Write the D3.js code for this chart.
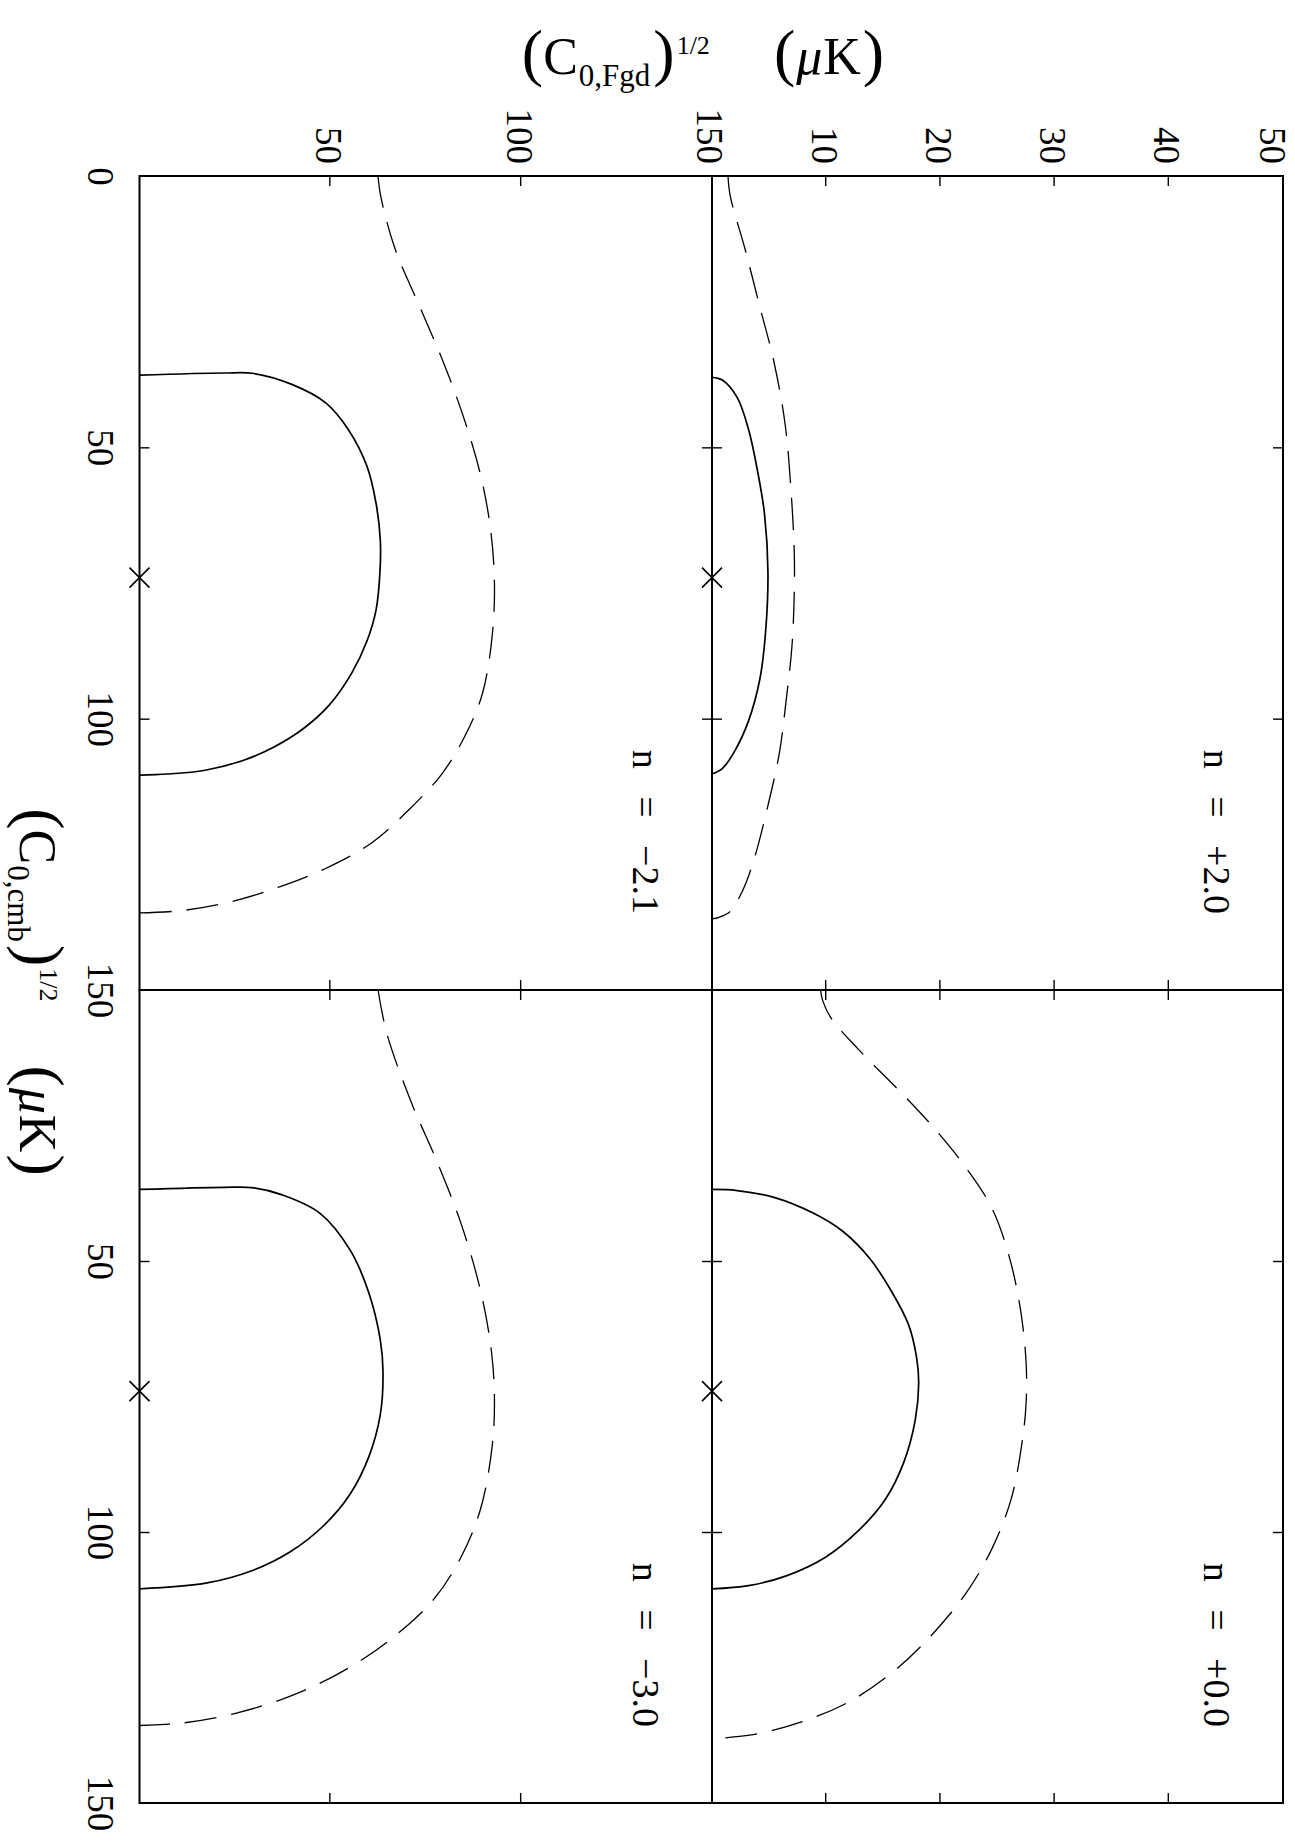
<!DOCTYPE html>
<html>
<head>
<meta charset="utf-8">
<script src="https://cdn.jsdelivr.net/npm/d3@7"></script>
<style>
  html, body { margin: 0; padding: 0; background: #ffffff; }
  svg { display: block; }
</style>
</head>
<body>
<div id="chart"></div>
<script>
// contour points as [C_cmb^1/2, C_Fgd^1/2] pairs
const solidP20 = [[37.1, 0], [37.6, 0.9], [40.8, 2.2], [46.7, 3.2], [54.5, 4.0], [62.3, 4.6], [73.0, 4.9], [83.8, 4.7], [92.6, 4.2], [100.4, 3.2], [106.3, 1.9], [109.2, 0.9], [110.2, 0]];
const dashedP20 = [[0, 1.4], [3.7, 1.6], [13.5, 2.9], [24.2, 4.2], [34.0, 5.4], [45.7, 6.4], [57.4, 6.9], [69.1, 7.2], [77.0, 7.2], [86.7, 7.0], [96.5, 6.5], [106.3, 5.9], [116.0, 4.9], [125.8, 3.7], [131.6, 2.7], [135.5, 1.6], [136.6, 0.6], [136.9, 0]];

const solidP00 = [[36.8, 0], [37.0, 2.2], [38.3, 5.5], [41.2, 8.9], [44.6, 11.5], [49.5, 13.8], [55.9, 15.8], [61.7, 17.2], [67.6, 17.9], [72.5, 18.1], [79.3, 17.8], [87.1, 16.8], [93.9, 15.2], [99.8, 12.8], [104.7, 9.9], [108.1, 6.5], [109.9, 3.2], [110.5, 0]];
const dashedP00 = [[0, 9.5], [2.0, 9.7], [5.1, 10.4], [10.9, 12.8], [18.8, 16.5], [25.6, 19.5], [32.4, 22.1], [40.2, 24.5], [49.0, 26.0], [58.8, 27.0], [68.6, 27.5], [76.4, 27.5], [84.2, 27.1], [93.9, 26.2], [102.7, 24.6], [110.5, 22.5], [118.4, 19.5], [125.2, 16.2], [131.1, 12.2], [135.0, 7.9], [137.4, 3.6], [138.1, 0.4], [138.2, 0]];

const solidM21 = [[36.7, 0], [36.3, 22.2], [36.4, 30.0], [38.4, 39.9], [41.8, 48.8], [46.7, 54.7], [53.5, 59.6], [60.4, 62.0], [67.2, 63.1], [73.0, 63.0], [79.9, 62.0], [85.7, 59.6], [91.6, 55.6], [97.5, 49.7], [101.9, 42.8], [105.3, 35.0], [107.7, 27.1], [109.5, 17.2], [110.2, 7.4], [110.4, 0]];
const dashedM21 = [[0, 62.5], [3.7, 63.2], [13.5, 67.0], [24.2, 73.5], [35.0, 80.0], [45.7, 85.5], [55.5, 89.5], [65.2, 92.0], [75.0, 93.0], [84.8, 92.4], [95.5, 89.8], [103.3, 85.2], [110.2, 79.2], [116.5, 71.0], [122.9, 60.8], [127.7, 48.5], [131.1, 36.3], [133.9, 23.0], [135.4, 10.6], [135.8, 0]];

const solidM30 = [[36.8, 0], [36.4, 22.2], [36.5, 30.0], [37.8, 37.4], [41.2, 47.3], [48.0, 55.2], [55.9, 60.1], [64.6, 63.1], [70.5, 63.8], [78.3, 63.1], [86.1, 60.1], [93.0, 55.2], [98.8, 48.3], [103.7, 39.4], [107.1, 29.6], [109.4, 17.7], [110.5, 0]];
const dashedM30 = [[0, 62.5], [8.0, 64.8], [20.7, 71.2], [31.4, 77.8], [43.2, 84.3], [55.9, 89.5], [66.6, 92.2], [75.4, 93.0], [84.2, 92.4], [95.9, 89.3], [104.7, 84.2], [112.5, 77.0], [119.3, 66.7], [125.2, 54.5], [130.1, 40.2], [133.5, 24.9], [135.3, 10.6], [135.7, 0]];

const panelLabels = ["n = +2.0", "n = +0.0", "n = \u22122.1", "n = \u22123.0"];
const bestFitCmb = 74;

const cmbDomain = [0, 150];
const cmbTicks = [50, 100];
const cmbLabelsFirst = [0, 50, 100, 150];
const cmbLabelsSecond = [50, 100, 150];

const fgdDomainTop = [0, 50];
const fgdTicksTop = [10, 20, 30, 40];
const fgdLabelsTop = [10, 20, 30, 40, 50];
const fgdDomainBottom = [0, 150];
const fgdTicksBottom = [50, 100];
const fgdLabelsBottom = [50, 100, 150];

const width = 1295;
const height = 1842;
const fontFamily = "'Liberation Serif', 'DejaVu Serif', serif";

// the figure is laid out in its own landscape frame (u across, v down) and then turned 90 degrees
const colSpans = [[176, 990], [990, 1803]];
const rowSpans = [[12, 583], [583, 1155.5]];
const rows = [
  { domain: fgdDomainTop, ticks: fgdTicksTop, labels: fgdLabelsTop },
  { domain: fgdDomainBottom, ticks: fgdTicksBottom, labels: fgdLabelsBottom }
];
const panels = [
  { col: 0, row: 0, label: panelLabels[0], solid: solidP20, dashed: dashedP20 },
  { col: 1, row: 0, label: panelLabels[1], solid: solidP00, dashed: dashedP00 },
  { col: 0, row: 1, label: panelLabels[2], solid: solidM21, dashed: dashedM21 },
  { col: 1, row: 1, label: panelLabels[3], solid: solidM30, dashed: dashedM30 }
];

const svg = d3.select("#chart")
  .append("svg")
  .attr("width", width)
  .attr("height", height)
  .attr("viewBox", `0 0 ${width} ${height}`);

svg.append("rect").attr("width", width).attr("height", height).attr("fill", "#ffffff");

const fig = svg.append("g").attr("transform", `translate(${width},0) rotate(90)`);

function styleTicks(axis) {
  axis.select(".domain").remove();
  axis.selectAll(".tick line").attr("stroke", "#000").attr("stroke-width", 1.4);
}

panels.forEach((panel) => {
  const [u0, u1] = colSpans[panel.col];
  const [v0, v1] = rowSpans[panel.row];
  const row = rows[panel.row];
  const x = d3.scaleLinear().domain(cmbDomain).range([u0, u1]);
  const y = d3.scaleLinear().domain(row.domain).range([v1, v0]);
  const g = fig.append("g");

  g.append("g").attr("transform", `translate(0,${v1})`)
    .call(d3.axisBottom(x).tickValues(cmbTicks).tickSize(-10).tickFormat(""))
    .call(styleTicks);
  g.append("g").attr("transform", `translate(0,${v0})`)
    .call(d3.axisTop(x).tickValues(cmbTicks).tickSize(-10).tickFormat(""))
    .call(styleTicks);
  g.append("g").attr("transform", `translate(${u0},0)`)
    .call(d3.axisLeft(y).tickValues(row.ticks).tickSize(-10).tickFormat(""))
    .call(styleTicks);
  g.append("g").attr("transform", `translate(${u1},0)`)
    .call(d3.axisRight(y).tickValues(row.ticks).tickSize(-10).tickFormat(""))
    .call(styleTicks);

  g.append("rect")
    .attr("x", u0)
    .attr("y", v0)
    .attr("width", u1 - u0)
    .attr("height", v1 - v0)
    .attr("fill", "none")
    .attr("stroke", "#000")
    .attr("stroke-width", 2);

  const line = d3.line()
    .x((d) => x(d[0]))
    .y((d) => y(d[1]))
    .curve(d3.curveCatmullRom.alpha(0.5));

  g.append("path")
    .datum(panel.dashed)
    .attr("fill", "none")
    .attr("stroke", "#000")
    .attr("stroke-width", 1.3)
    .attr("stroke-dasharray", "32 15")
    .attr("d", line);

  g.append("path")
    .datum(panel.solid)
    .attr("fill", "none")
    .attr("stroke", "#000")
    .attr("stroke-width", 1.7)
    .attr("d", line);

  // best-fit marker sitting on the zero-foreground edge
  const cx = x(bestFitCmb);
  const cy = y(0);
  const arm = 10;
  g.append("path")
    .attr("d", `M${cx - arm},${cy - arm}L${cx + arm},${cy + arm}M${cx - arm},${cy + arm}L${cx + arm},${cy - arm}`)
    .attr("stroke", "#000")
    .attr("stroke-width", 1.6)
    .attr("fill", "none");

  g.append("text")
    .attr("x", u1 - 76)
    .attr("y", v0 + 79)
    .attr("text-anchor", "end")
    .attr("font-family", fontFamily)
    .attr("font-size", 38)
    .attr("word-spacing", 18)
    .attr("fill", "#000")
    .text(panel.label);
});

// tick labels: C_cmb along the bottom, C_Fgd along the left
function styleLabels(axis) {
  axis.select(".domain").remove();
  axis.selectAll(".tick line").remove();
  axis.selectAll("text")
    .attr("font-family", fontFamily)
    .attr("font-size", 37)
    .attr("fill", "#000");
}

colSpans.forEach(([u0, u1], i) => {
  const x = d3.scaleLinear().domain(cmbDomain).range([u0, u1]);
  fig.append("g")
    .attr("transform", `translate(0,${rowSpans[1][1]})`)
    .call(d3.axisBottom(x).tickValues(i === 0 ? cmbLabelsFirst : cmbLabelsSecond).tickSize(0).tickPadding(25).tickFormat(d3.format("d")))
    .call(styleLabels);
});

rowSpans.forEach(([v0, v1], i) => {
  const y = d3.scaleLinear().domain(rows[i].domain).range([v1, v0]);
  const top = rows[i].domain[1];
  fig.append("g")
    .attr("transform", `translate(${colSpans[0][0]},0)`)
    .call(d3.axisLeft(y).tickValues(rows[i].labels).tickSize(0).tickPadding(12).tickFormat(d3.format("d")))
    .call(styleLabels)
    // the very last label sits on the page edge, so it is nudged inward a little
    .call((axis) => axis.selectAll("text").attr("dy", (d) => (i === 0 && d === top ? "0.6em" : "0.38em")));
});

// axis titles built from pieces so the delimiters can be larger than the letters
function drawTitle(parent, cx, baseline, sub) {
  const parts = [
    { t: "(", size: 64, gap: 0 },
    { t: "C", size: 52, gap: 0 },
    { t: sub, size: 31, gap: 1, dy: 12 },
    { t: ")", size: 64, gap: 3 },
    { t: "1/2", size: 26, gap: 2, dy: -20 },
    { t: "(", size: 64, gap: 64 },
    { t: "\u03bc", size: 52, gap: 1, italic: true },
    { t: "K", size: 52, gap: 1 },
    { t: ")", size: 64, gap: 2 }
  ];
  const text = parent.append("text")
    .attr("font-family", fontFamily)
    .attr("fill", "#000");
  let pos = 0;
  parts.forEach((p) => {
    pos += p.gap;
    const span = text.append("tspan")
      .attr("x", pos)
      .attr("y", p.dy || 0)
      .attr("font-size", p.size)
      .attr("font-style", p.italic ? "italic" : "normal")
      .text(p.t);
    pos += span.node().getComputedTextLength();
  });
  text.attr("transform", `translate(${cx - pos / 2},${baseline})`);
}

drawTitle(fig, 992, 1275, "0,cmb");
drawTitle(svg, 703, 74, "0,Fgd");
</script>
</body>
</html>
